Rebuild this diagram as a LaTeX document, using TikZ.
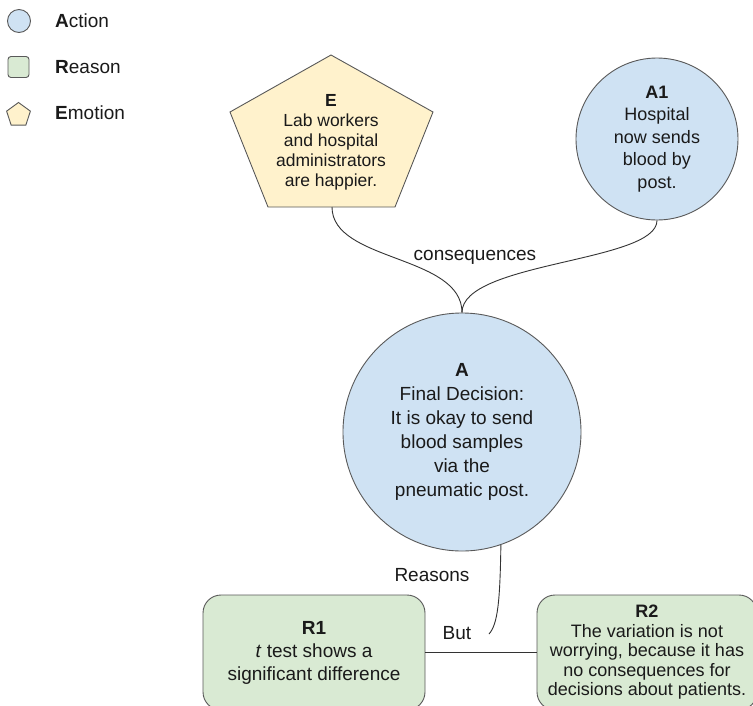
\documentclass[tikz,border=0pt]{standalone}
\usepackage{fontspec}
\setmainfont{Liberation Sans}
\usetikzlibrary{shapes.geometric}
\definecolor{actfill}{HTML}{CFE2F3}
\definecolor{reafill}{HTML}{D9EAD3}
\definecolor{emofill}{HTML}{FFF2CC}
\definecolor{edgecol}{HTML}{595959}
\definecolor{linecol}{HTML}{333333}
\definecolor{txtcol}{HTML}{1A1A1A}
\tikzset{
  actionnode/.style={circle, draw=edgecol, fill=actfill, line width=0.9pt, inner sep=0pt, align=center, text=txtcol},
  reasonnode/.style={rectangle, rounded corners=18pt, draw=edgecol, fill=reafill, line width=0.9pt, inner sep=0pt, align=center, text=txtcol},
  emotionshape/.style={draw=edgecol, fill=emofill, line width=0.9pt, line join=miter},
  plaintext/.style={inner sep=0pt, text=txtcol, font=\fontsize{19}{23}\selectfont},
  conn/.style={draw=linecol, line width=0.9pt},
  legcircle/.style={circle, draw=edgecol, fill=actfill, line width=0.9pt, minimum size=23pt, inner sep=0pt},
  legsquare/.style={rectangle, rounded corners=3pt, draw=edgecol, fill=reafill, line width=0.9pt, minimum size=21pt, inner sep=0pt},
  legpent/.style={regular polygon, regular polygon sides=5, draw=edgecol, fill=emofill, line width=0.9pt, minimum size=25pt, inner sep=0pt},
  legtext/.style={anchor=west, inner sep=0pt, text=txtcol, font=\fontsize{19}{23}\selectfont},
}
\begin{document}
\begin{tikzpicture}[x=1pt,y=-1pt]
\clip (0,0) rectangle (753,705);
\fill[white] (0,0) rectangle (753,705);
% legend
\node[legcircle] (legA) at (19,21) {};
\node[legtext] (legAt) at (55,21) {\textbf{A}ction};
\node[legsquare] (legR) at (18.5,67) {};
\node[legtext] (legRt) at (55,67) {\textbf{R}eason};
\node[legpent] (legE) at (18.5,115) {};
\node[legtext] (legEt) at (55,113) {\textbf{E}motion};
% emotion pentagon
\draw[emotionshape] (331,55) -- (433,112) -- (395,207) -- (268,207) -- (230,112) -- cycle;
\node[inner sep=0pt, align=center, text=txtcol, font=\fontsize{17.5}{20}\selectfont] (E) at (331,142)
  {\textbf{E}\\Lab workers\\and hospital\\administrators\\are happier.};
\coordinate (Ebot) at (332,207);
% action nodes
\node[actionnode, minimum size=162pt, font=\fontsize{18}{22.5}\selectfont] (A1) at (657,139)
  {\textbf{A1}\\Hospital\\now sends\\blood by\\post.};
\node[actionnode, minimum size=238pt, font=\fontsize{19}{24}\selectfont] (A) at (462,432)
  {\textbf{A}\\Final Decision:\\It is okay to send\\blood samples\\via the\\pneumatic post.};
% reason nodes
\node[reasonnode, minimum width=222pt, minimum height=115pt, font=\fontsize{19}{23}\selectfont] (R1) at (314,652.5)
  {\textbf{R1}\\\textit{t} test shows a\\significant difference};
\node[reasonnode, minimum width=220pt, minimum height=115pt, font=\fontsize{18}{19.5}\selectfont] (R2) at (647,652.5)
  {\textbf{R2}\\The variation is not\\worrying, because it has\\no consequences for\\decisions about patients.};
% connectors
\draw[conn] (Ebot) .. controls +(0,55) and +(0,-58) .. (A.north);
\draw[conn] (A1.south) .. controls +(0,42) and +(0,-51) .. (A.north);
\coordinate (Rend) at (489,634);
\draw[conn] (A.-71) .. controls (500,600) and (498,624) .. (Rend);
\draw[conn] (R1.east) -- (R2.west);
% labels
\node[plaintext] (lblcons) at (475,257) {consequences};
\node[plaintext] (lblreas) at (432,575) {Reasons};
\node[plaintext] (lblbut) at (457,633) {But};
\end{tikzpicture}
\end{document}
